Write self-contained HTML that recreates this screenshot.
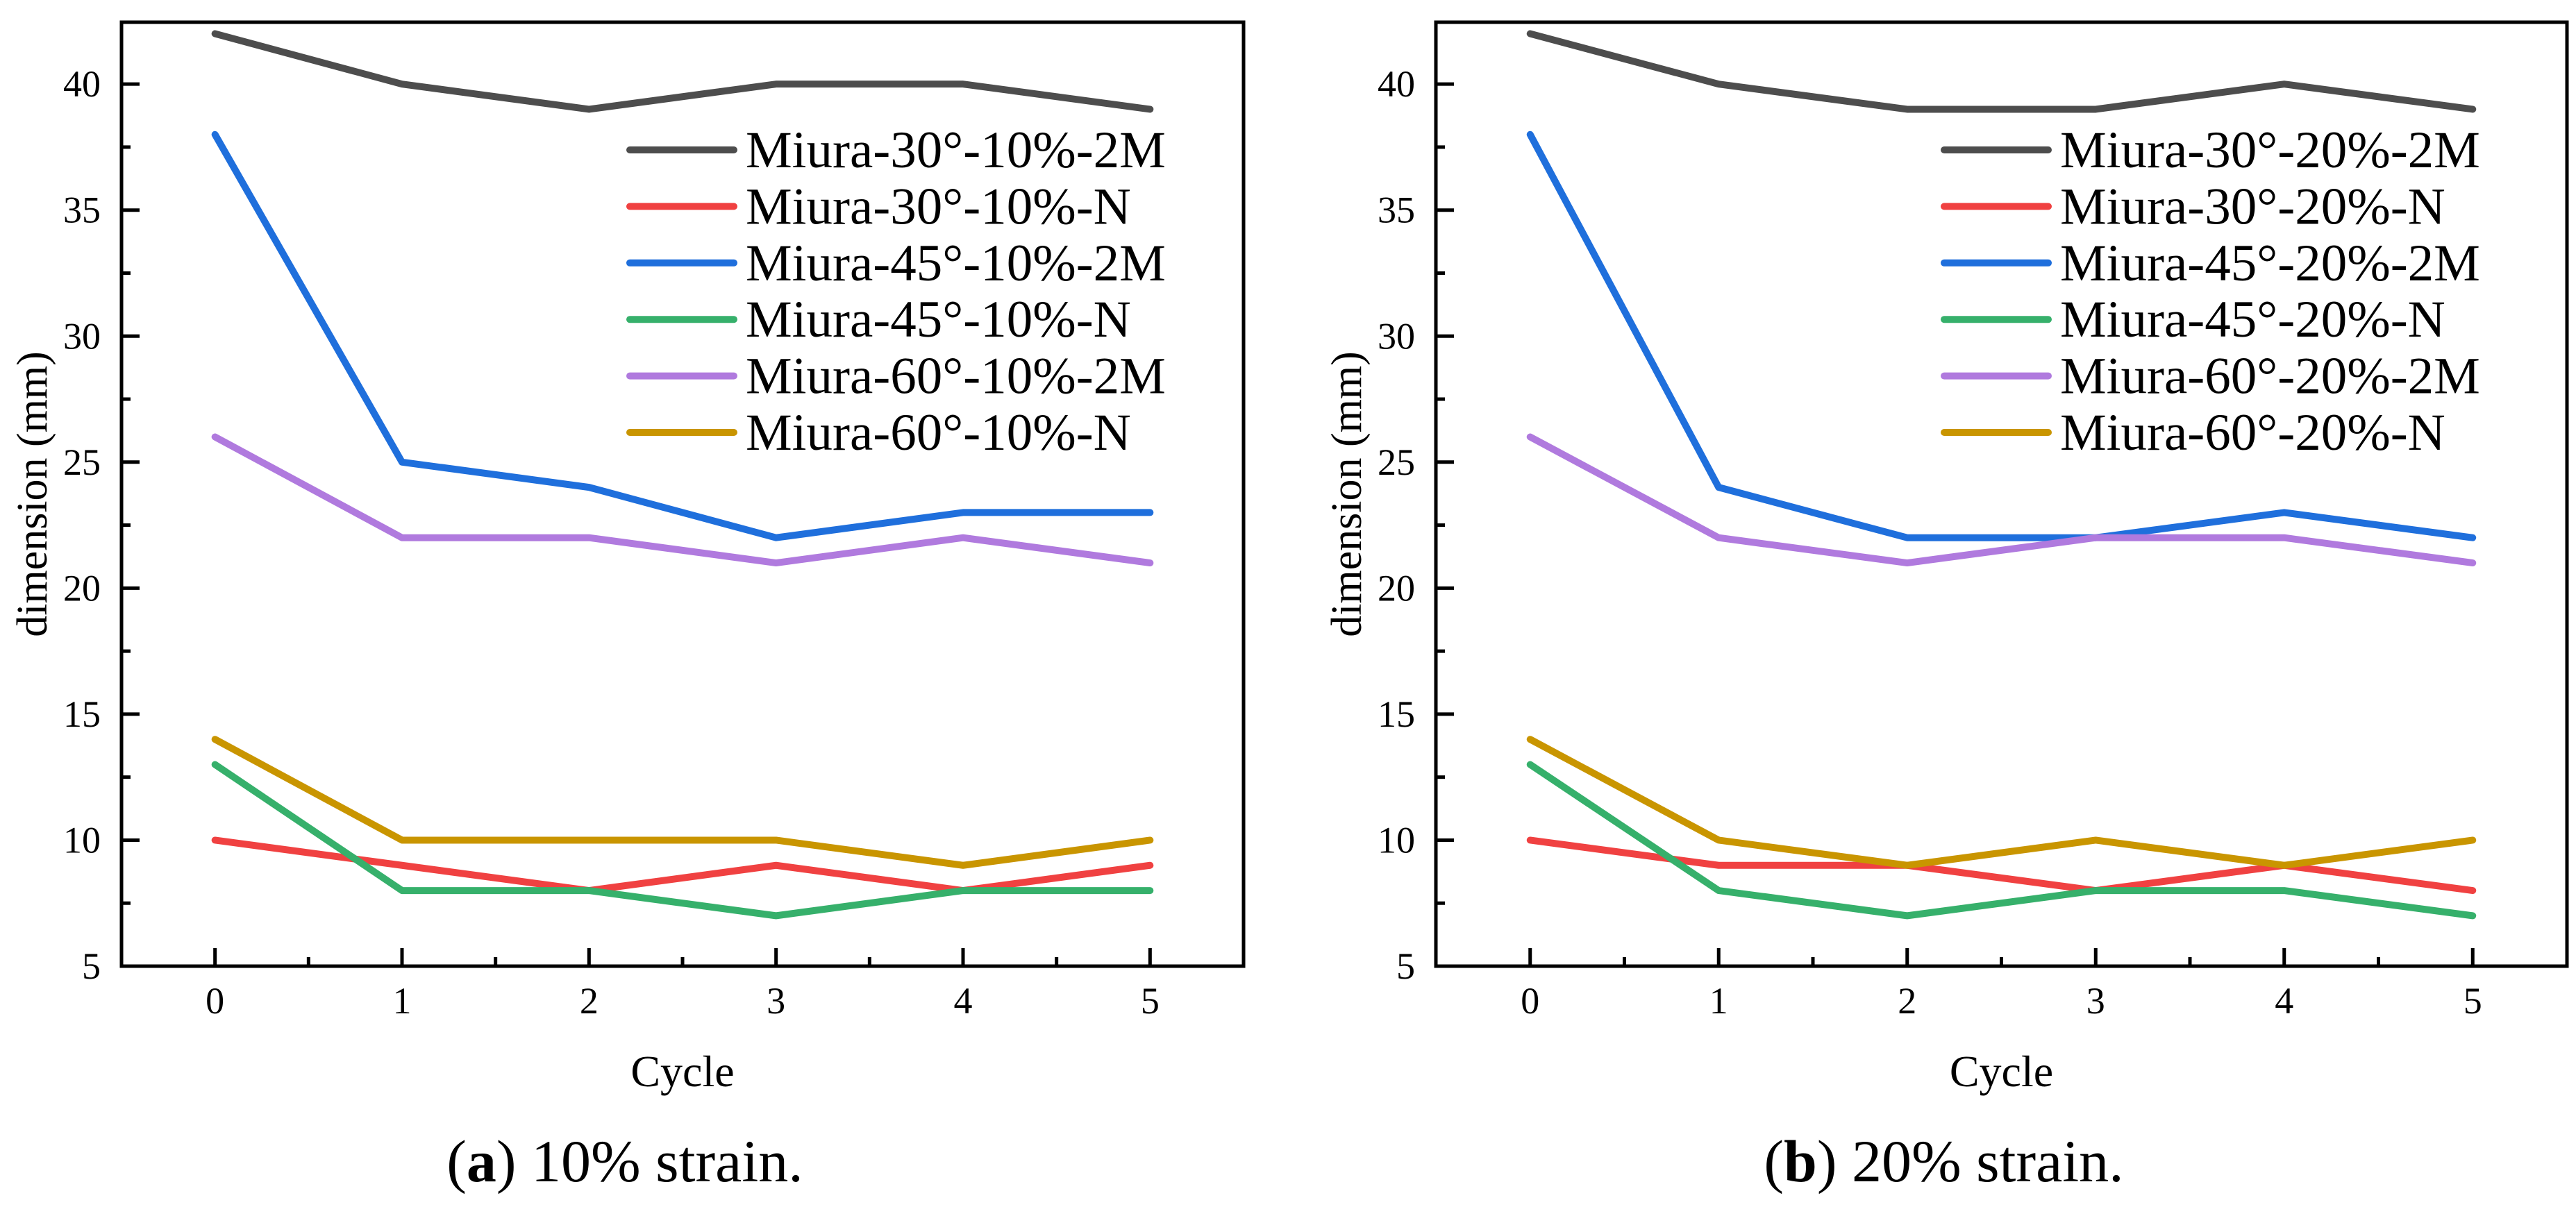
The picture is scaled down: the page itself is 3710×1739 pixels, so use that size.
<!DOCTYPE html>
<html><head><meta charset="utf-8"><style>
html,body{margin:0;padding:0;background:#fff;}
svg{display:block;font-family:"Liberation Serif",serif;}
</style></head><body>
<svg id="chart" width="3710" height="1739" viewBox="0 0 3710 1739" xmlns="http://www.w3.org/2000/svg"></svg>
<script>
const cycles = [0,1,2,3,4,5];
const yTicks = [5,10,15,20,25,30,35,40];
const seriesNamesA = ["Miura-30°-10%-2M","Miura-30°-10%-N","Miura-45°-10%-2M","Miura-45°-10%-N","Miura-60°-10%-2M","Miura-60°-10%-N"];
const seriesNamesB = ["Miura-30°-20%-2M","Miura-30°-20%-N","Miura-45°-20%-2M","Miura-45°-20%-N","Miura-60°-20%-2M","Miura-60°-20%-N"];
const colors = ["#4d4d4d","#f04141","#1f6fdc","#36b06b","#b07ade","#c99500"];
const a30_2M = [42,40,39,40,40,39];
const a30_N  = [10,9,8,9,8,9];
const a45_2M = [38,25,24,22,23,23];
const a45_N  = [13,8,8,7,8,8];
const a60_2M = [26,22,22,21,22,21];
const a60_N  = [14,10,10,10,9,10];
const b30_2M = [42,40,39,39,40,39];
const b30_N  = [10,9,9,8,9,8];
const b45_2M = [38,24,22,22,23,22];
const b45_N  = [13,8,7,8,8,7];
const b60_2M = [26,22,21,22,22,21];
const b60_N  = [14,10,9,10,9,10];
const captionA = ["a","10% strain."];
const captionB = ["b","20% strain."];

const NS = "http://www.w3.org/2000/svg";
const svg = document.getElementById("chart");
function mk(tag, attrs, parent){
  const e = document.createElementNS(NS, tag);
  for (const k in attrs) e.setAttribute(k, attrs[k]);
  (parent||svg).appendChild(e);
  return e;
}
function panel(id, left, right, seriesList, names, cap){
  const top = 32, bottom = 1392;
  const g = mk("g", {});
  
  
  const xs = v => left + (v + 0.5) / 6 * (right - left);
  const ys = v => bottom - (v - 5) * 36.31;
  seriesList.forEach((s, i) => {
    const pts = s.map((v, j) => xs(cycles[j]) + "," + ys(v)).join(" ");
    const pl = mk("polyline", {points: pts, fill: "none", stroke: colors[i], "stroke-width": 10, "stroke-linejoin": "round", "stroke-linecap": "round"}, g);
    
    
  });
  const fr = mk("rect", {x: left, y: top, width: right - left, height: bottom - top, fill: "none", stroke: "#000", "stroke-width": 5}, g);
  
  
  for (let v = -0.5; v <= 5.51; v += 0.5) {
    const major = Math.abs(v - Math.round(v)) < 0.01;
    const x = xs(v);
    mk("line", {x1: x, x2: x, y1: bottom, y2: bottom - (major ? 26 : 13), stroke: "#000", "stroke-width": 5}, g);
  }
  cycles.forEach(c => {
    const t = mk("text", {x: xs(c), y: bottom + 68, "font-size": 54, "text-anchor": "middle"}, g);
    t.textContent = c;
    
    
  });
  for (let v = 5; v <= 42.4; v += 2.5) {
    const major = Math.abs(v / 5 - Math.round(v / 5)) < 0.01;
    const y = ys(v);
    mk("line", {x1: left, x2: left + (major ? 26 : 13), y1: y, y2: y, stroke: "#000", "stroke-width": 5}, g);
  }
  yTicks.forEach(v => {
    const t = mk("text", {x: left - 30, y: ys(v) + 18, "font-size": 54, "text-anchor": "end"}, g);
    t.textContent = v;
    
    
  });
  const xt = mk("text", {x: (left + right) / 2, y: 1565, "font-size": 64, "text-anchor": "middle"}, g);
  xt.textContent = "Cycle";
  
  
  const yx = left - 108, yy = (top + bottom) / 2;
  const yt = mk("text", {x: yx, y: yy, "font-size": 62, "text-anchor": "middle", transform: "rotate(-90 " + yx + " " + yy + ")"}, g);
  yt.textContent = "dimension (mm)";
  
  
  const lx = left + 732;
  names.forEach((n, i) => {
    const y = 216 + i * 81.4;
    const le = mk("g", {}, g);
    
    
    mk("line", {x1: lx, x2: lx + 150, y1: y, y2: y, stroke: colors[i], "stroke-width": 10, "stroke-linecap": "round"}, le);
    const t = mk("text", {x: lx + 167, y: y + 25, "font-size": 75}, le);
    t.textContent = n;
  });
  const ct = mk("text", {x: (left + right) / 2 - 83, y: 1702, "font-size": 86, "text-anchor": "middle"}, g);
  
  
  const s1 = mk("tspan", {}, ct); s1.textContent = "(";
  const s2 = mk("tspan", {"font-weight": "bold"}, ct); s2.textContent = cap[0];
  const s3 = mk("tspan", {}, ct); s3.textContent = ") " + cap[1];
}
panel("a", 175, 1791, [a30_2M, a30_N, a45_2M, a45_N, a60_2M, a60_N], seriesNamesA, captionA);
panel("b", 2068, 3697, [b30_2M, b30_N, b45_2M, b45_N, b60_2M, b60_N], seriesNamesB, captionB);
</script>
</body></html>
